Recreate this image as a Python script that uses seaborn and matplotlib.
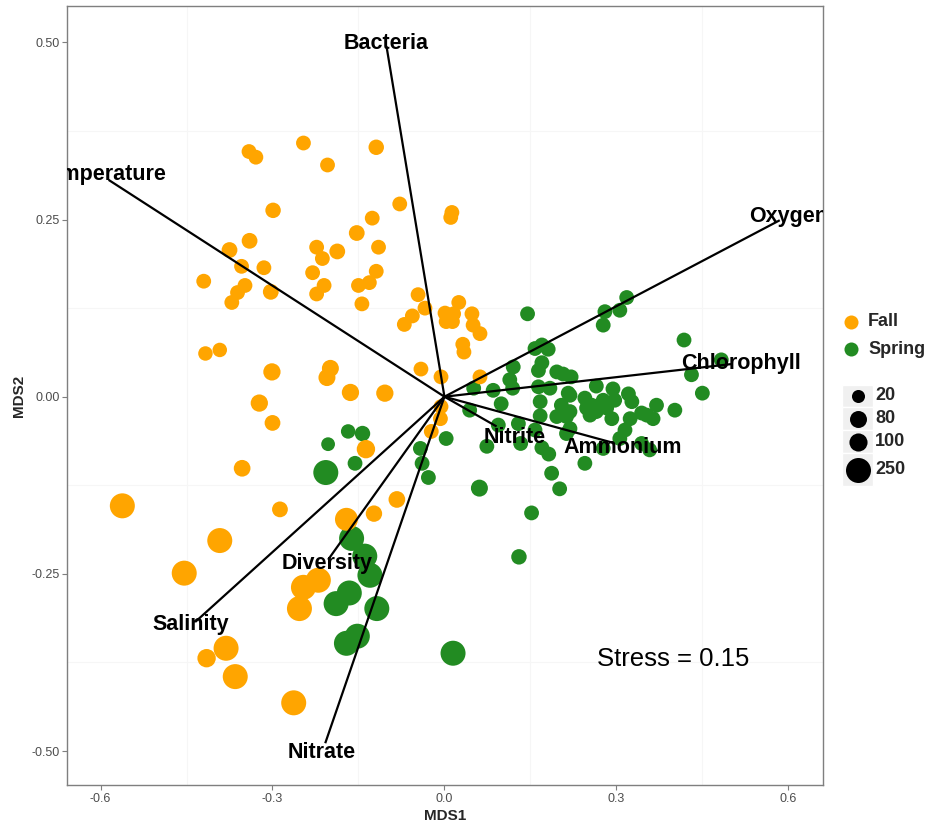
import matplotlib
matplotlib.use("Agg")
import matplotlib.pyplot as plt
from matplotlib.patches import Rectangle
import numpy as np
import pandas as pd
import seaborn as sns

sns.set_style("white")
plt.rcParams["font.family"] = ["Liberation Sans", "DejaVu Sans"]

# ---- site scores (NMDS axes) and abundance, by season ----
fall_x = [-0.341, -0.329, -0.246, -0.119, -0.204, -0.299, -0.078, -0.126, -0.153, -0.340,
          -0.375, -0.223, -0.187, -0.115, -0.213, -0.354, -0.315, -0.420, -0.230, -0.119,
          -0.348, -0.361, -0.303, -0.210, -0.223, -0.150, -0.131, -0.371, -0.144, -0.046,
          0.013, 0.011, -0.056, -0.070, -0.034, 0.001, 0.003, 0.014, 0.025, 0.016,
          0.048, 0.050, 0.062, 0.032, 0.034, -0.417, -0.392, -0.301, -0.199, -0.205,
          -0.164, -0.104, -0.041, -0.006, 0.062, -0.323, -0.300, -0.006, -0.007, -0.023,
          -0.353, -0.562, -0.287, -0.392, -0.454, -0.381, -0.415, -0.365, -0.263, -0.137,
          -0.083, -0.123, -0.171, -0.220, -0.246, -0.253]
fall_y = [0.346, 0.338, 0.358, 0.352, 0.327, 0.263, 0.272, 0.252, 0.231, 0.220,
          0.207, 0.211, 0.205, 0.211, 0.195, 0.184, 0.182, 0.163, 0.175, 0.177,
          0.157, 0.147, 0.148, 0.157, 0.145, 0.157, 0.161, 0.133, 0.131, 0.144,
          0.260, 0.253, 0.114, 0.102, 0.125, 0.118, 0.106, 0.106, 0.133, 0.117,
          0.117, 0.101, 0.089, 0.074, 0.063, 0.061, 0.066, 0.035, 0.040, 0.027,
          0.006, 0.005, 0.039, 0.028, 0.028, -0.009, -0.037, -0.014, -0.031, -0.049,
          -0.101, -0.154, -0.159, -0.203, -0.249, -0.355, -0.369, -0.395, -0.432, -0.074,
          -0.145, -0.165, -0.173, -0.259, -0.269, -0.299]
fall_size = [45, 45, 45, 55, 45, 55, 45, 45, 60, 60,
             60, 45, 60, 45, 45, 45, 45, 45, 45, 45,
             45, 45, 60, 45, 45, 45, 45, 45, 45, 45,
             45, 45, 45, 45, 45, 45, 45, 45, 45, 45,
             45, 45, 45, 45, 45, 40, 40, 85, 80, 80,
             85, 85, 45, 45, 45, 85, 60, 45, 45, 45,
             75, 250, 60, 250, 250, 250, 105, 250, 250, 105,
             75, 70, 200, 250, 250, 250]

spring_x = [0.145, 0.318, 0.306, 0.280, 0.277, 0.418, 0.483, 0.431, 0.450, 0.402,
            0.370, 0.158, 0.181, 0.170, 0.120, 0.114, 0.119, 0.170, 0.164, 0.196,
            0.207, 0.221, 0.085, 0.051, 0.099, 0.044, 0.164, 0.167, 0.167, 0.184,
            0.216, 0.204, 0.196, 0.213, 0.094, 0.129, 0.158, 0.074, 0.133, 0.003,
            0.170, 0.182, 0.187, 0.201, 0.061, 0.152, 0.130, 0.015, 0.245, 0.265,
            0.294, 0.321, 0.245, 0.257, 0.254, 0.277, 0.297, 0.283, 0.292, 0.327,
            0.324, 0.315, 0.306, 0.353, 0.364, 0.344, 0.358, 0.219, 0.219, 0.248,
            0.265, 0.344, 0.213, 0.277, 0.219,
            -0.168, -0.143, -0.203, -0.207, -0.156, -0.042, -0.039, -0.028, -0.162, -0.139,
            -0.130, -0.166, -0.189, -0.118, -0.152, -0.171]
spring_y = [0.117, 0.140, 0.122, 0.120, 0.101, 0.080, 0.052, 0.031, 0.005, -0.019,
            -0.012, 0.068, 0.067, 0.073, 0.042, 0.024, 0.012, 0.048, 0.037, 0.035,
            0.032, 0.028, 0.009, 0.012, -0.010, -0.019, 0.014, -0.007, -0.027, 0.012,
            0.005, -0.012, -0.028, -0.028, -0.040, -0.038, -0.047, -0.070, -0.066, -0.059,
            -0.072, -0.081, -0.108, -0.130, -0.129, -0.164, -0.226, -0.362, -0.002, 0.015,
            0.011, 0.004, -0.094, -0.012, -0.026, -0.005, -0.005, -0.016, -0.031, -0.007,
            -0.031, -0.047, -0.059, -0.026, -0.031, -0.066, -0.075, 0.002, -0.021, -0.016,
            -0.021, -0.023, -0.052, -0.073, -0.045,
            -0.049, -0.052, -0.067, -0.107, -0.094, -0.073, -0.094, -0.114, -0.200, -0.225,
            -0.252, -0.277, -0.292, -0.299, -0.338, -0.348]
spring_size = [45, 45, 45, 45, 45, 45, 45, 45, 45, 45,
               45, 45, 45, 45, 45, 45, 45, 45, 45, 45,
               45, 45, 45, 45, 45, 45, 45, 45, 45, 45,
               45, 45, 45, 45, 45, 45, 45, 45, 45, 45,
               45, 45, 45, 45, 80, 45, 55, 250, 45, 45,
               45, 45, 45, 45, 45, 45, 45, 45, 45, 45,
               45, 45, 45, 45, 45, 45, 45, 45, 45, 45,
               45, 45, 45, 45, 45,
               40, 55, 30, 250, 45, 45, 45, 45, 250, 250,
               250, 250, 250, 250, 250, 250]

# ---- environmental fitting vectors ----
vector_names = ["Bacteria", "Temperature", "Oxygen", "Chlorophyll", "Nitrite",
                "Ammonium", "Diversity", "Salinity", "Nitrate"]
vector_x = [-0.101, -0.586, 0.585, 0.500, 0.091, 0.294, -0.203, -0.435, -0.208]
vector_y = [0.494, 0.306, 0.249, 0.046, -0.042, -0.065, -0.230, -0.318, -0.489]
label_x = [-0.102, -0.597, 0.600, 0.517, 0.123, 0.311, -0.205, -0.442, -0.215]
label_y = [0.499, 0.313, 0.254, 0.047, -0.057, -0.071, -0.235, -0.322, -0.502]

stress_value = 0.15
season_names = ["Fall", "Spring"]
season_colors = ["#FFA500", "#228B22"]
size_breaks = [20, 80, 100, 250]

# area range (pt^2) for abundance 20 .. 250
S_MIN, S_MAX = 88.0, 324.0
SIZE_LIM = (20, 250)

df = pd.concat([
    pd.DataFrame({"MDS1": spring_x, "MDS2": spring_y, "Abundance": spring_size,
                  "Season": "Spring"}),
    pd.DataFrame({"MDS1": fall_x, "MDS2": fall_y, "Abundance": fall_size,
                  "Season": "Fall"}),
], ignore_index=True)

W, H = 931, 824
fig = plt.figure(figsize=(W / 100, H / 100), dpi=100)
ax = fig.add_axes([0.0723, 0.0473, 0.8114, 0.9451])

sns.scatterplot(data=df, x="MDS1", y="MDS2", hue="Season",
                palette=dict(zip(season_names, season_colors)),
                size="Abundance", sizes=(S_MIN, S_MAX), size_norm=SIZE_LIM,
                linewidth=0, alpha=1, legend=False, ax=ax, zorder=2)

for name, vx, vy, lx, ly in zip(vector_names, vector_x, vector_y, label_x, label_y):
    ax.plot([0, vx], [0, vy], color="black", lw=1.6, zorder=3,
            solid_capstyle="butt")
    ax.text(lx, ly, name, ha="center", va="center", fontsize=15.5,
            fontweight="bold", color="black", clip_on=True, zorder=4)

ax.text(0.399, -0.370, f"Stress = {stress_value:.2f}", ha="center", va="center",
        fontsize=18.5, color="black", zorder=4)

ax.set_xlim(-0.658, 0.660)
ax.set_ylim(-0.548, 0.551)
ax.set_xticks([-0.6, -0.3, 0.0, 0.3, 0.6])
ax.set_xticklabels(["-0.6", "-0.3", "0.0", "0.3", "0.6"])
ax.set_yticks([-0.5, -0.25, 0.0, 0.25, 0.5])
ax.set_yticklabels(["-0.50", "-0.25", "0.00", "0.25", "0.50"])
ax.set_xticks([-0.45, -0.15, 0.15, 0.45], minor=True)
ax.set_yticks([-0.375, -0.125, 0.125, 0.375], minor=True)
ax.grid(False)
ax.grid(which="minor", color="#F6F6F6", lw=0.8, zorder=0)
ax.set_axisbelow(True)
ax.tick_params(which="major", direction="out", length=3.5, width=0.8,
               color="#7F7F7F", labelsize=9, labelcolor="#4D4D4D", pad=2,
               bottom=True, left=True)
ax.tick_params(which="minor", length=0)
for sp in ax.spines.values():
    sp.set_color("#7F7F7F")
    sp.set_linewidth(1.0)
ax.set_xlabel("MDS1", fontsize=11, fontweight="bold", labelpad=3)
ax.set_ylabel("MDS2", fontsize=11, fontweight="bold", labelpad=4)

# ---- legends (drawn in pixel coordinates on an overlay) ----
leg = fig.add_axes([0, 0, 1, 1], zorder=10)
leg.set_xlim(0, W)
leg.set_ylim(H, 0)
leg.axis("off")
leg.patch.set_visible(False)

for i, (nm, col) in enumerate(zip(season_names, season_colors)):
    yy = 321.7 + i * 27.6
    leg.scatter([850.7], [yy], s=102, color=col, linewidth=0)
    leg.text(868, yy, nm, ha="left", va="center", fontsize=13,
             fontweight="bold")

row_edges = [384.5, 407.0, 430.0, 453.0, 486.0]
for i, v in enumerate(size_breaks):
    top, bot = row_edges[i], row_edges[i + 1]
    leg.add_patch(Rectangle((842, top), 31, bot - top, facecolor="#F0F0F0",
                            edgecolor="white", lw=1))
    yc = (top + bot) / 2
    s = S_MIN + (v - SIZE_LIM[0]) / (SIZE_LIM[1] - SIZE_LIM[0]) * (S_MAX - S_MIN)
    leg.scatter([858], [yc], s=s, color="black", linewidth=0, zorder=3)
    leg.text(875, yc, str(v), ha="left", va="center", fontsize=13,
             fontweight="bold")

fig.savefig("out.png", dpi=100)
